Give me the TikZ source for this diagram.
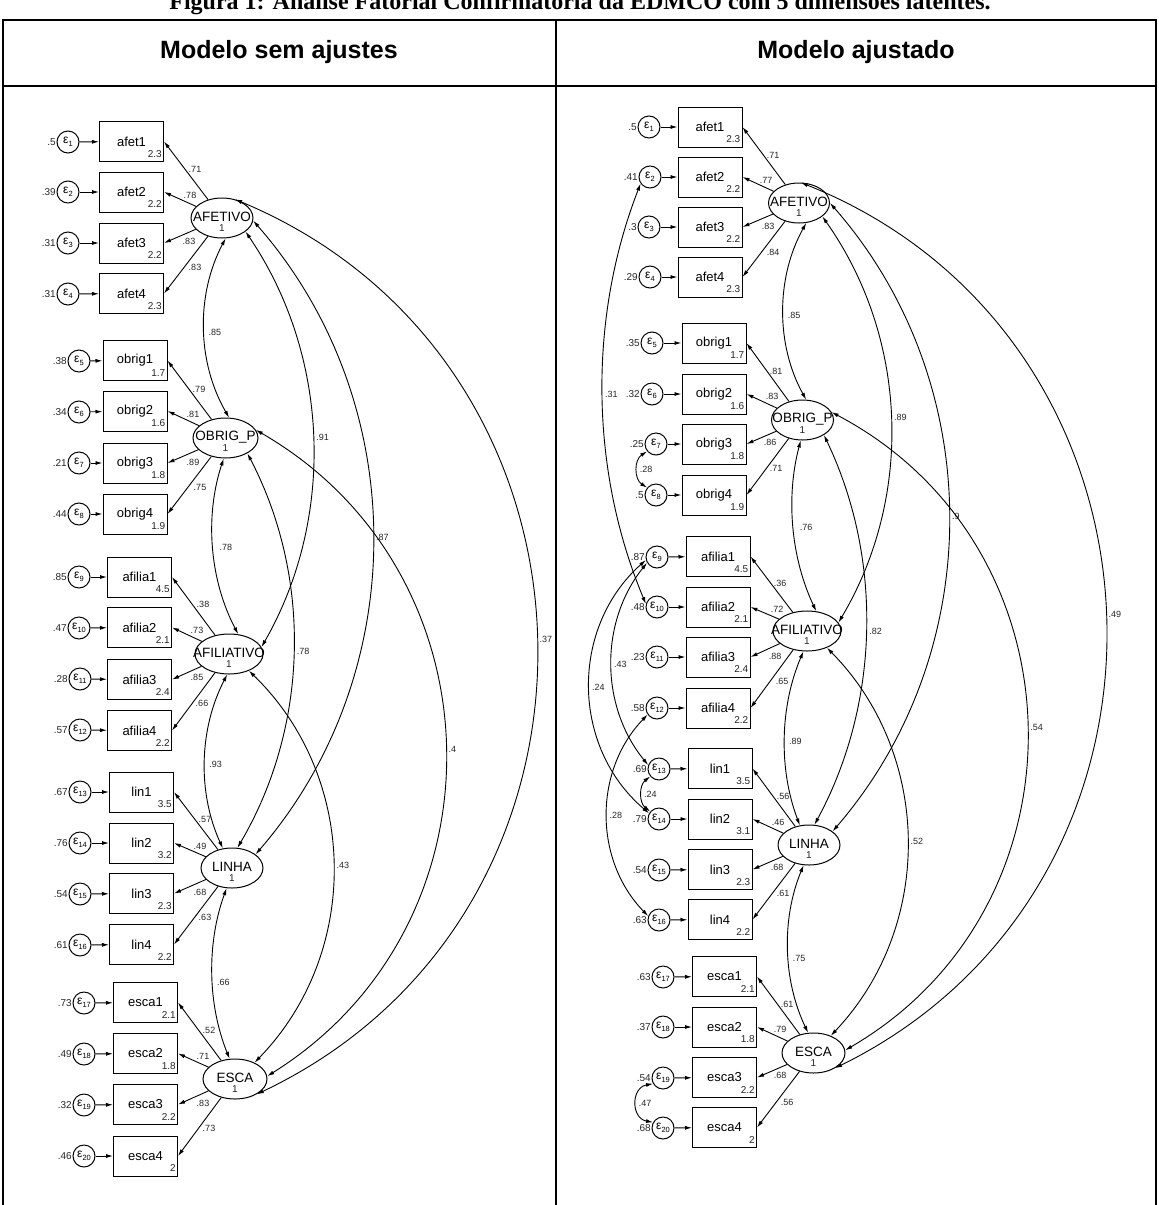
\documentclass[tikz,border=0pt]{standalone}
\usepackage{fontspec}
\setmainfont{Liberation Sans}
\newfontfamily\capfont{Liberation Serif}
\usetikzlibrary{shapes.geometric,arrows.meta}
\tikzset{
 obsbox/.style={draw, line width=1pt, minimum width=64pt, minimum height=40pt, inner sep=0pt, font=\fontsize{13}{13}\selectfont},
 lat/.style={ellipse, draw, line width=1pt, minimum height=40pt, inner sep=0pt},
 latname/.style={inner sep=0pt, font=\fontsize{13.5}{13.5}\selectfont},
 errc/.style={circle, draw, line width=1pt, minimum size=22pt, inner sep=0pt, font=\fontsize{12}{12}\selectfont},
 var/.style={font=\fontsize{10}{10}\selectfont, text=black!85, inner sep=0.5pt},
 num/.style={font=\fontsize{9}{9}\selectfont, text=black!85, inner sep=0pt},
 intc/.style={font=\fontsize{10}{10}\selectfont, text=black!85, inner sep=0pt},
 arr/.style={-{Latex[length=7pt,width=4pt]}, line width=0.9pt},
 cov/.style={{Latex[length=7pt,width=4pt]}-{Latex[length=7pt,width=4pt]}, line width=0.9pt},
 rule/.style={line width=1.6pt},
}
\newcommand{\row}[9]{%
 \node[errc] (#1e#2) at (#3,#4) {ε\raisebox{-2.5pt}{\fontsize{7.5}{7.5}\selectfont #2}};
 \node[var,anchor=east] (#1v#2) at (#1e#2.west) {#5};
 \node[obsbox] (#1b#2) at (#6,#7) {#8};
 \node[intc,anchor=base east] (#1i#2) at ([xshift=-2pt,yshift=5pt]#1b#2.south east) {#9};
 \draw[arr] (#1e#2) -- (#1b#2);
}
\newcommand{\latent}[5]{%
 \node[lat, minimum width=#4pt] (#1) at (#2,#3) {};
 \node[latname] (#1t) at ([yshift=1pt]#1.center) {#5};
 \node[intc] (#1v) at ([yshift=-10pt]#1.center) {1};
}
\newcommand{\load}[5]{%
 \draw[arr] (#1) -- (#2.east);
 \node[num] (#2n) at (#3,#4) {#5};
}
\begin{document}
\begin{tikzpicture}[x=1pt,y=-1pt]
\useasboundingbox (0,0) rectangle (1159,1205);
\fill[white] (0,0) rectangle (1159,1205);
% caption and table
\node[font=\capfont\bfseries\fontsize{24}{24}\selectfont, anchor=base] (cap) at (580,9) {Figura 1: Análise Fatorial Confirmatória da EDMCO com 5 dimensões latentes.};
\draw[rule] (2,20) -- (1157,20);
\draw[rule] (2,86) -- (1157,86);
\draw[rule] (3,20) -- (3,1205);
\draw[rule] (1156,20) -- (1156,1205);
\draw[line width=2.6pt] (556,20) -- (556,1205);
\node[font=\bfseries\fontsize{25}{25}\selectfont] (h1) at (279,52) {Modelo sem ajustes};
\node[font=\bfseries\fontsize{25}{25}\selectfont] (h2) at (856,52) {Modelo ajustado};

% ---------------- LEFT MODEL ----------------
\row{L}{1}{68}{142}{.5}{131.5}{141.5}{afet1}{2.3}
\row{L}{2}{68}{192}{.39}{131.5}{192}{afet2}{2.2}
\row{L}{3}{68}{243}{.31}{131.5}{243}{afet3}{2.2}
\row{L}{4}{68}{294}{.31}{131.5}{293.5}{afet4}{2.3}
\row{L}{5}{79}{361}{.38}{135}{360.5}{obrig1}{1.7}
\row{L}{6}{79}{412}{.34}{135}{411}{obrig2}{1.6}
\row{L}{7}{79}{463}{.21}{135}{463}{obrig3}{1.8}
\row{L}{8}{79}{514}{.44}{135}{514}{obrig4}{1.9}
\row{L}{9}{79}{577}{.85}{139.5}{577}{afilia1}{4.5}
\row{L}{10}{79}{628}{.47}{139.5}{627.5}{afilia2}{2.1}
\row{L}{11}{80}{679}{.28}{139.5}{679.5}{afilia3}{2.4}
\row{L}{12}{80}{730}{.57}{139.5}{730.5}{afilia4}{2.2}
\row{L}{13}{80}{792}{.67}{141.5}{792}{lin1}{3.5}
\row{L}{14}{80}{843}{.76}{141.5}{843}{lin2}{3.2}
\row{L}{15}{80}{894}{.54}{141.5}{893.5}{lin3}{2.3}
\row{L}{16}{80}{945}{.61}{141.5}{944.5}{lin4}{2.2}
\row{L}{17}{84}{1003}{.73}{145.5}{1002.5}{esca1}{2.1}
\row{L}{18}{84}{1054}{.49}{145.5}{1053.5}{esca2}{1.8}
\row{L}{19}{84}{1105}{.32}{145.5}{1104.5}{esca3}{2.2}
\row{L}{20}{84}{1156}{.46}{145.5}{1156}{esca4}{2}

\latent{LAF}{222}{218}{62}{AFETIVO}
\latent{LOB}{225.5}{438}{65}{OBRIG\_P}
\latent{LAFI}{229}{654}{68}{AFILIATIVO}
\latent{LLI}{232}{868}{62}{LINHA}
\latent{LES}{235}{1079}{64}{ESCA}

\load{LAF}{Lb1}{195}{169}{.71}
\load{LAF}{Lb2}{190}{195}{.78}
\load{LAF}{Lb3}{189}{241}{.83}
\load{LAF}{Lb4}{195}{267}{.83}
\load{LOB}{Lb5}{199}{389}{.79}
\load{LOB}{Lb6}{193}{414}{.81}
\load{LOB}{Lb7}{193}{462}{.89}
\load{LOB}{Lb8}{200}{487}{.75}
\load{LAFI}{Lb9}{203}{604}{.38}
\load{LAFI}{Lb10}{197}{630}{.73}
\load{LAFI}{Lb11}{197}{677}{.85}
\load{LAFI}{Lb12}{202}{703}{.66}
\load{LLI}{Lb13}{205}{819}{.57}
\load{LLI}{Lb14}{200}{846}{.49}
\load{LLI}{Lb15}{200}{892}{.68}
\load{LLI}{Lb16}{205}{917}{.63}
\load{LES}{Lb17}{209}{1030}{.52}
\load{LES}{Lb18}{203}{1056}{.71}
\load{LES}{Lb19}{203}{1103}{.83}
\load{LES}{Lb20}{209}{1128}{.73}

% factor covariances (left)
\draw[cov] (LAF.-80) to[bend right=29, looseness=0.91] node[num, right=4pt, pos=0.52] (lc1) {.85} (LOB.80);
\draw[cov] (LOB.-95) to[bend right=23, looseness=0.89] node[num, right=6pt, pos=0.5] (lc2) {.78} (LAFI.65);
\draw[cov] (LAFI.-95) to[bend right=26, looseness=0.9] node[num, right=4pt, pos=0.52] (lc3) {.93} (LLI.115);
\draw[cov] (LLI.-105) to[bend right=21, looseness=0.88] node[num, right=4pt, pos=0.55] (lc4) {.66} (LES.105);
\draw[cov] (LAF.-30) to[bend left=32, looseness=0.92] node[num, right=3pt] (lc5) {.91} (LAFI.12);
\draw[cov] (LAF.-5) to[bend left=41, looseness=0.97] node[num, right=3pt] (lc6) {.87} (LLI.30);
\draw[cov] (LAF.55) to[bend left=66, looseness=1.21] node[num, right=3pt] (lc7) {.37} (LES.-35);
\draw[cov] (LOB.-35) to[bend left=29, looseness=0.91] node[num, right=3pt] (lc8) {.78} (LLI.75);
\draw[cov] (LOB.15) to[bend left=59, looseness=1.13] node[num, right=3pt] (lc9) {.4} (LES.5);
\draw[cov] (LAFI.-40) to[bend left=45, looseness=1.0] node[num, right=3pt] (lc10) {.43} (LES.40);

% ---------------- RIGHT MODEL ----------------
\row{R}{1}{649}{127}{.5}{710}{127}{afet1}{2.3}
\row{R}{2}{650}{177}{.41}{710}{177}{afet2}{2.2}
\row{R}{3}{649}{227}{.3}{710}{227}{afet3}{2.2}
\row{R}{4}{650}{277}{.29}{710}{277}{afet4}{2.3}
\row{R}{5}{652}{343}{.35}{714}{343}{obrig1}{1.7}
\row{R}{6}{652}{394}{.32}{714}{394}{obrig2}{1.6}
\row{R}{7}{656}{444}{.25}{714}{444}{obrig3}{1.8}
\row{R}{8}{656}{495}{.5}{714}{495}{obrig4}{1.9}
\row{R}{9}{657}{557}{.87}{718}{556.5}{afilia1}{4.5}
\row{R}{10}{657}{607}{.48}{718}{607}{afilia2}{2.1}
\row{R}{11}{657}{657}{.23}{718}{657}{afilia3}{2.4}
\row{R}{12}{657}{708}{.58}{718}{708}{afilia4}{2.2}
\row{R}{13}{659}{769}{.69}{720}{768.5}{lin1}{3.5}
\row{R}{14}{659}{819}{.79}{720}{819}{lin2}{3.1}
\row{R}{15}{659}{870}{.54}{720}{869.5}{lin3}{2.3}
\row{R}{16}{659}{920}{.63}{720}{919.5}{lin4}{2.2}
\row{R}{17}{663}{977}{.63}{724.5}{976.5}{esca1}{2.1}
\row{R}{18}{663}{1027}{.37}{724.5}{1027}{esca2}{1.8}
\row{R}{19}{663}{1078}{.54}{724.5}{1077.5}{esca3}{2.2}
\row{R}{20}{663}{1128}{.68}{724.5}{1127.5}{esca4}{2}

\latent{RAF}{799}{203}{61}{AFETIVO}
\latent{ROB}{802.5}{420}{62}{OBRIG\_P}
\latent{RAFI}{807}{631}{68}{AFILIATIVO}
\latent{RLI}{809}{845}{62}{LINHA}
\latent{RES}{813.5}{1053}{63}{ESCA}

\load{RAF}{Rb1}{773}{155}{.71}
\load{RAF}{Rb2}{766}{180}{.77}
\load{RAF}{Rb3}{768}{226}{.83}
\load{RAF}{Rb4}{773}{252}{.84}
\load{ROB}{Rb5}{776}{371}{.81}
\load{ROB}{Rb6}{772}{396}{.83}
\load{ROB}{Rb7}{770}{442}{.86}
\load{ROB}{Rb8}{776}{468}{.71}
\load{RAFI}{Rb9}{780}{583}{.36}
\load{RAFI}{Rb10}{777}{609}{.72}
\load{RAFI}{Rb11}{775}{656}{.88}
\load{RAFI}{Rb12}{782}{681}{.65}
\load{RLI}{Rb13}{783}{796}{.56}
\load{RLI}{Rb14}{778}{822}{.46}
\load{RLI}{Rb15}{777}{867}{.68}
\load{RLI}{Rb16}{783}{893}{.61}
\load{RES}{Rb17}{787}{1004}{.61}
\load{RES}{Rb18}{780}{1029}{.79}
\load{RES}{Rb19}{780}{1075}{.68}
\load{RES}{Rb20}{787}{1102}{.56}

% factor covariances (right)
\draw[cov] (RAF.-70) to[bend right=29, looseness=0.91] node[num, right=4pt, pos=0.52] (rc1) {.85} (ROB.80);
\draw[cov] (ROB.-95) to[bend right=20, looseness=0.88] node[num, right=6pt, pos=0.5] (rc2) {.76} (RAFI.65);
\draw[cov] (RAFI.-100) to[bend right=22, looseness=0.88] node[num, right=4pt, pos=0.52] (rc3) {.89} (RLI.115);
\draw[cov] (RLI.-105) to[bend right=24, looseness=0.89] node[num, right=4pt, pos=0.55] (rc4) {.75} (RES.105);
\draw[cov] (RAF.-30) to[bend left=33, looseness=0.93] node[num, right=3pt] (rc5) {.89} (RAFI.15);
\draw[cov] (RAF.0) to[bend left=41, looseness=0.97] node[num, right=3pt] (rc6) {.9} (RLI.30);
\draw[cov] (RAF.85) to[bend left=66, looseness=1.21] node[num, right=3pt] (rc7) {.49} (RES.-35);
\draw[cov] (ROB.-35) to[bend left=27, looseness=0.9] node[num, right=3pt] (rc8) {.82} (RLI.75);
\draw[cov] (ROB.15) to[bend left=61, looseness=1.15] node[num, right=3pt] (rc9) {.54} (RES.5);
\draw[cov] (RAFI.-40) to[bend left=44, looseness=0.99] node[num, right=3pt] (rc10) {.52} (RES.45);

% error covariances (right)
\draw[cov] (Re2.215) to[bend right=22, looseness=0.88] node[num, right=2pt] (ec1) {.31} (Re10.165);
\draw[cov] (Re9.210) to[bend right=39, looseness=0.96] node[num, right=2pt] (ec2) {.43} (Re13.160);
\draw[cov] (Re9.195) to[bend right=49, looseness=1.03] node[num, right=2pt] (ec3) {.24} (Re14.150);
\draw[cov] (Re12.215) to[bend right=44, looseness=0.99] node[num, right=2pt] (ec4) {.28} (Re16.160);
\draw[cov] (Re7.220) to[bend right=58, looseness=1.1] node[num, right=2pt] (ec5) {.28} (Re8.140);
\draw[cov] (Re13.220) to[bend right=51, looseness=1.05] node[num, right=2pt] (ec6) {.24} (Re14.140);
\draw[cov] (Re19.210) to[bend right=80, looseness=1.5] node[num, right=2pt] (ec7) {.47} (Re20.150);
\end{tikzpicture}
\end{document}
